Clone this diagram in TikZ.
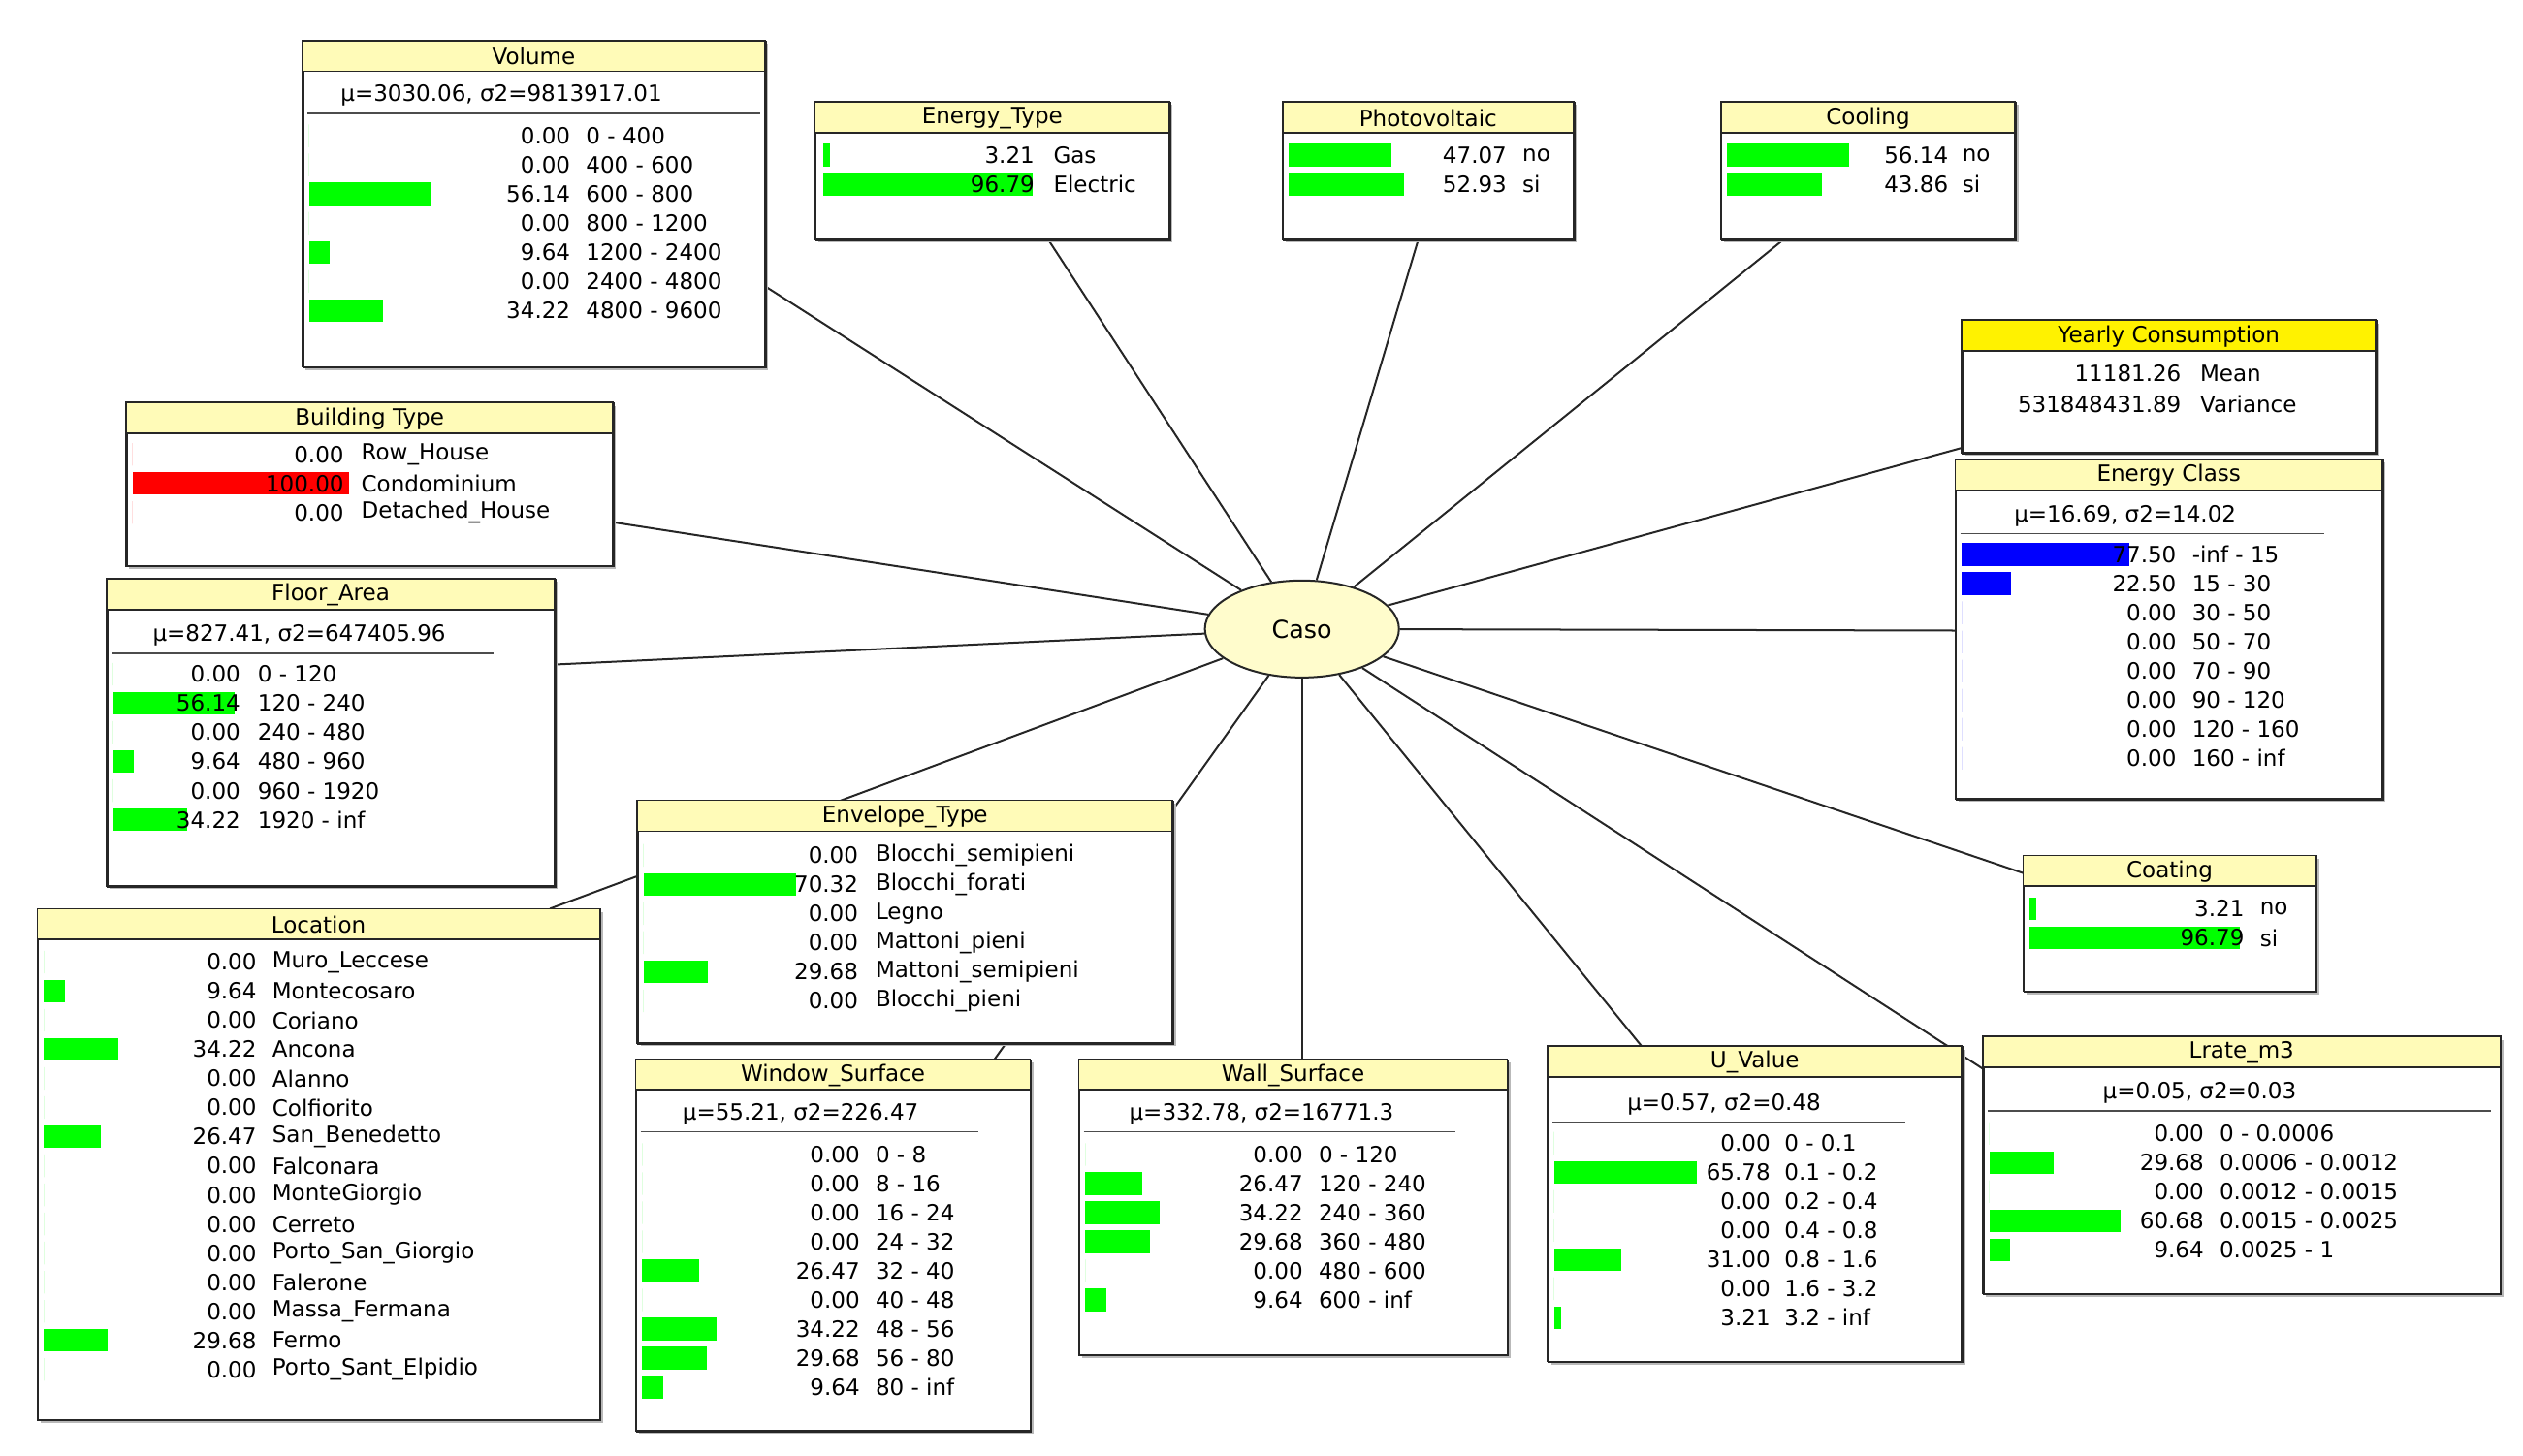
\documentclass[tikz,border=0pt]{standalone}
\usepackage{fontspec}
\setmainfont{DejaVu Sans}
\usetikzlibrary{shapes.geometric}
\begin{document}
\begin{tikzpicture}[x=0.5pt,y=-0.5pt,font=\fontsize{6.9}{8.2}\selectfont,
  box/.style={draw=black!85,line width=0.5pt,fill=white,anchor=north west,inner sep=0pt},
  edge/.style={draw=black!85,line width=0.6pt},
  casostyle/.style={ellipse,draw=black!85,fill=yellow!20,minimum width=60pt,minimum height=30pt,line width=0.6pt,font=\fontsize{7.6}{9}\selectfont},
  val/.style={anchor=east,inner sep=0pt},
  lab/.style={anchor=west,inner sep=0pt}]
\useasboundingbox (0,0) rectangle (1560,900);
\newcommand\bnbox[7][yellow!28]{%
  \fill[gray!55] (#3+2,#4+2) rectangle (#5+2,#6+2);
  \node[box,minimum width={(#5-#3)*0.5pt},minimum height={(#6-#4)*0.5pt}] (#2) at (#3,#4) {};
  \fill[#1] (#3,#4) rectangle (#5,#4+19);
  \draw[black!85,line width=0.5pt] (#3,#4) rectangle (#5,#6);
  \draw[black!85,line width=0.5pt] (#3,#4+19) -- (#5,#4+19);
  \node[inner sep=0pt] at ({(#3+#5)/2},#4+10) {#7};}
\newcommand\stats[5]{% cx y ux0 ux1 text
  \node[inner sep=0pt] at (#1,#2) {#5};
  \draw[black!70,line width=0.5pt] (#3,#2+11) -- (#4,#2+11);}
\newcommand\rows[6]{% barx y0 valx labx color list
  \foreach \v/\l [count=\i from 0] in {#6}{
    \fill[#5] (#1,#2+\i*18-7) rectangle ({#1+\v*1.34},#2+\i*18+7);
    \node[val] at (#3,#2+\i*18) {\v};
    \node[lab] at (#4,#2+\i*18) {\l};}}
% targets
\coordinate (tVol) at (473,177);
\coordinate (tEt) at (648,148);
\coordinate (tPv) at (877,148);
\coordinate (tCo) at (1103,148);
\coordinate (tYc) at (1213,277);
\coordinate (tEc) at (1209,390);
\coordinate (tCt) at (1251,540);
\coordinate (tLr) at (1226,661);
\coordinate (tUv) at (1015,647);
\coordinate (tWa) at (805,655);
\coordinate (tWi) at (615,655);
\coordinate (tLo) at (340,562);
\coordinate (tFa) at (343,411);
\coordinate (tBt) at (379,323);
\node[casostyle] (caso) at (805,389) {Caso};
\foreach \t in {tVol,tEt,tPv,tCo,tYc,tEc,tCt,tLr,tUv,tWa,tWi,tLo,tFa,tBt}
  \draw[edge] (caso) -- (\t);
% Volume
\bnbox{vol}{187}{25}{473}{227}{Volume}
\stats{310}{59}{190}{470}{μ=3030.06, σ2=9813917.01}
\rows{191}{84}{353}{362}{green}{0.00/0 - 400,0.00/400 - 600,56.14/600 - 800,0.00/800 - 1200,9.64/1200 - 2400,0.00/2400 - 4800,34.22/4800 - 9600}
% Energy type
\bnbox{et}{504}{63}{723}{148}{Energy\_Type}
\rows{509}{96}{640}{651}{green}{3.21/Gas,96.79/Electric}
% Photovoltaic
\bnbox{pv}{793}{63}{973}{148}{Photovoltaic}
\rows{797}{96}{932}{941}{green}{47.07/no,52.93/si}
% Cooling
\bnbox{co}{1064}{63}{1246}{148}{Cooling}
\rows{1068}{96}{1205}{1213}{green}{56.14/no,43.86/si}
% Yearly consumption
\bnbox[yellow]{yc}{1213}{198}{1469}{280}{Yearly Consumption}
\node[val] at (1349,231) {11181.26}; \node[lab] at (1360,231) {Mean};
\node[val] at (1349,250) {531848431.89}; \node[lab] at (1360,250) {Variance};
% Energy class
\bnbox{ec}{1209}{284}{1473}{494}{Energy Class}
\stats{1314}{319}{1212}{1437}{μ=16.69, σ2=14.02}
\rows{1213}{343}{1346}{1355}{blue}{77.50/-inf - 15,22.50/15 - 30,0.00/30 - 50,0.00/50 - 70,0.00/70 - 90,0.00/90 - 120,0.00/120 - 160,0.00/160 - inf}
% Coating
\bnbox{ct}{1251}{529}{1432}{613}{Coating}
\rows{1255}{562}{1388}{1397}{green}{3.21/no,96.79/si}
% Lrate
\bnbox{lr}{1226}{641}{1546}{800}{Lrate\_m3}
\stats{1360}{676}{1229}{1540}{μ=0.05, σ2=0.03}
\rows{1230}{701}{1363}{1372}{green}{0.00/0 - 0.0006,29.68/0.0006 - 0.0012,0.00/0.0012 - 0.0015,60.68/0.0015 - 0.0025,9.64/0.0025 - 1}
% U value
\bnbox{uv}{957}{647}{1213}{842}{U\_Value}
\stats{1066}{683}{960}{1178}{μ=0.57, σ2=0.48}
\rows{961}{707}{1095}{1103}{green}{0.00/0 - 0.1,65.78/0.1 - 0.2,0.00/0.2 - 0.4,0.00/0.4 - 0.8,31.00/0.8 - 1.6,0.00/1.6 - 3.2,3.21/3.2 - inf}
% Wall surface
\bnbox{wa}{667}{655}{932}{838}{Wall\_Surface}
\stats{780}{689}{670}{900}{μ=332.78, σ2=16771.3}
\rows{671}{714}{806}{815}{green}{0.00/0 - 120,26.47/120 - 240,34.22/240 - 360,29.68/360 - 480,0.00/480 - 600,9.64/600 - inf}
% Window surface
\bnbox{wi}{393}{655}{637}{885}{Window\_Surface}
\stats{495}{689}{396}{605}{μ=55.21, σ2=226.47}
\rows{397}{714}{532}{541}{green}{0.00/0 - 8,0.00/8 - 16,0.00/16 - 24,0.00/24 - 32,26.47/32 - 40,0.00/40 - 48,34.22/48 - 56,29.68/56 - 80,9.64/80 - inf}
% Envelope type
\bnbox{en}{394}{495}{725}{645}{Envelope\_Type}
\rows{398}{529}{531}{541}{green}{0.00/Blocchi\_semipieni,70.32/Blocchi\_forati,0.00/Legno,0.00/Mattoni\_pieni,29.68/Mattoni\_semipieni,0.00/Blocchi\_pieni}
% Location
\bnbox{lo}{23}{562}{371}{878}{Location}
\rows{27}{595}{159}{168}{green}{0.00/Muro\_Leccese,9.64/Montecosaro,0.00/Coriano,34.22/Ancona,0.00/Alanno,0.00/Colfiorito,26.47/San\_Benedetto,0.00/Falconara,0.00/MonteGiorgio,0.00/Cerreto,0.00/Porto\_San\_Giorgio,0.00/Falerone,0.00/Massa\_Fermana,29.68/Fermo,0.00/Porto\_Sant\_Elpidio}
% Floor area
\bnbox{fa}{66}{358}{343}{548}{Floor\_Area}
\stats{185}{393}{69}{305}{μ=827.41, σ2=647405.96}
\rows{70}{417}{149}{159}{green}{0.00/0 - 120,56.14/120 - 240,0.00/240 - 480,9.64/480 - 960,0.00/960 - 1920,34.22/1920 - inf}
% Building type
\bnbox{bt}{78}{249}{379}{350}{Building Type}
\rows{82}{281}{213}{223}{red}{0.00/Row\_House,100.00/Condominium,0.00/Detached\_House}
\end{tikzpicture}
\end{document}
